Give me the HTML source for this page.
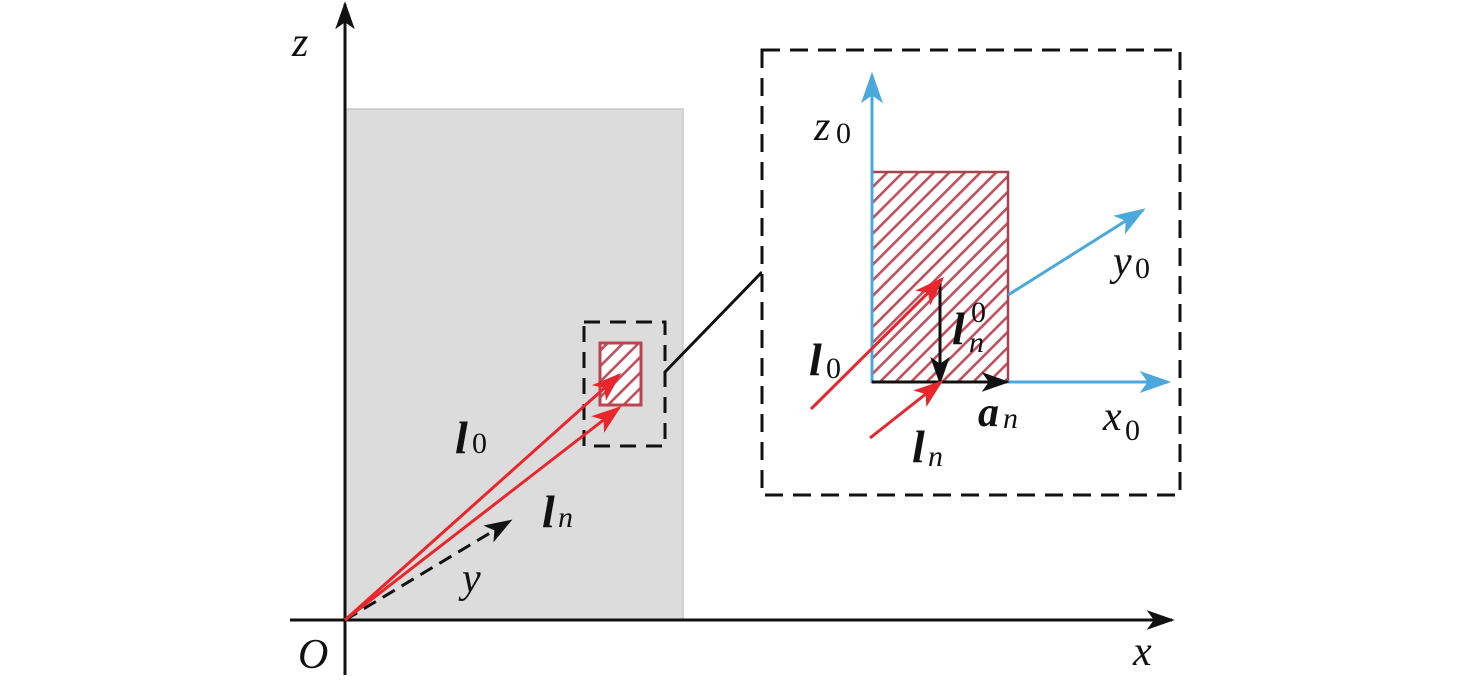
<!DOCTYPE html>
<html><head><style>
html,body{margin:0;padding:0;background:#fff;}
svg text{font-family:"Liberation Serif","Times New Roman","DejaVu Serif",serif;}
.i{font-style:italic;}
.n{font-style:normal;}
.b{font-weight:bold;font-style:italic;}
</style></head><body>
<svg width="1476" height="682" viewBox="0 0 1476 682" xmlns="http://www.w3.org/2000/svg">
<defs>
<pattern id="h" patternUnits="userSpaceOnUse" width="11" height="11" patternTransform="rotate(-45)">
<rect width="11" height="11" fill="#fff"/>
<rect x="0" y="0" width="11" height="2.6" fill="#c0505c"/>
</pattern>
<marker id="ab" viewBox="0 0 20 14" refX="18" refY="7" markerWidth="28" markerHeight="20" markerUnits="userSpaceOnUse" orient="auto"><path d="M0,0 L20,7 L0,14 L5,7z" fill="#111"/></marker>
<marker id="ar" viewBox="0 0 20 14" refX="18" refY="7" markerWidth="30" markerHeight="21" markerUnits="userSpaceOnUse" orient="auto"><path d="M0,0 L20,7 L0,14 L5,7z" fill="#e8262b"/></marker>
<marker id="abl" viewBox="0 0 20 14" refX="18" refY="7" markerWidth="32" markerHeight="22" markerUnits="userSpaceOnUse" orient="auto"><path d="M0,0 L20,7 L0,14 L5,7z" fill="#4ba8dd"/></marker>
</defs>
<rect x="345" y="109" width="338" height="511" fill="#dcdcdc" stroke="#c8c8c8" stroke-width="1.5"/>
<line x1="345" y1="675" x2="345" y2="4" stroke="#111" stroke-width="3" marker-end="url(#ab)"/>
<line x1="290" y1="620" x2="1172" y2="620" stroke="#111" stroke-width="3" marker-end="url(#ab)"/>
<rect x="600" y="343" width="41" height="62" fill="url(#h)" stroke="#b8454f" stroke-width="3"/>
<rect x="584" y="322" width="81" height="124" fill="none" stroke="#111" stroke-width="3" stroke-dasharray="16,10"/>
<line x1="345" y1="620" x2="510" y2="521" stroke="#111" stroke-width="3" stroke-dasharray="14,8" marker-end="url(#ab)"/>
<line x1="345" y1="620" x2="619" y2="375" stroke="#e8262b" stroke-width="3" marker-end="url(#ar)"/>
<line x1="345" y1="620" x2="619" y2="408" stroke="#e8262b" stroke-width="3" marker-end="url(#ar)"/>
<polyline points="665,372 762,272" fill="none" stroke="#111" stroke-width="3"/>
<rect x="762" y="50" width="418" height="445" fill="#fff" stroke="#111" stroke-width="3" stroke-dasharray="18,10"/>
<rect x="872" y="172" width="136" height="210" fill="url(#h)" stroke="#a8434d" stroke-width="2.5"/>
<line x1="872" y1="382" x2="872" y2="75" stroke="#4ba8dd" stroke-width="3" marker-end="url(#abl)"/>
<line x1="1008" y1="382" x2="1168" y2="382" stroke="#4ba8dd" stroke-width="3" marker-end="url(#abl)"/>
<line x1="1008" y1="295" x2="1143" y2="210" stroke="#4ba8dd" stroke-width="3" marker-end="url(#abl)"/>
<line x1="872" y1="382" x2="1007" y2="382" stroke="#111" stroke-width="3" marker-end="url(#ab)"/>
<line x1="940" y1="280" x2="940" y2="382" stroke="#111" stroke-width="3" marker-end="url(#ab)"/>
<line x1="811" y1="409" x2="942" y2="279" stroke="#e8262b" stroke-width="3" marker-end="url(#ar)"/>
<line x1="870" y1="438" x2="941" y2="382" stroke="#e8262b" stroke-width="3" marker-end="url(#ar)"/>
<g fill="#111">
<text class="i" x="292" y="56" font-size="42">z</text>
<text class="i" x="298" y="668" font-size="42">O</text>
<text class="i" x="1133" y="665" font-size="42">x</text>
<text class="i" x="462" y="592" font-size="42">y</text>
<text class="b" x="455" y="453" font-size="46">l</text><text class="n" x="472" y="453" font-size="30">0</text>
<text class="b" x="542" y="527" font-size="46">l</text><text class="i" x="558" y="527" font-size="30">n</text>
<text class="i" x="814" y="140" font-size="42">z</text><text class="n" x="836" y="143" font-size="30">0</text>
<text class="i" x="1113" y="275" font-size="42">y</text><text class="n" x="1135" y="278" font-size="30">0</text>
<text class="i" x="1103" y="430" font-size="42">x</text><text class="n" x="1125" y="440" font-size="30">0</text>
<text class="b" x="809" y="375" font-size="46">l</text><text class="n" x="826" y="378" font-size="30">0</text>
<text class="b" x="912" y="462" font-size="46">l</text><text class="i" x="928" y="466" font-size="30">n</text>
<text class="b" x="978" y="426" font-size="42">a</text><text class="i" x="1003" y="428" font-size="30">n</text>
<text class="b" x="952" y="344" font-size="46">l</text><text class="n" x="971" y="322" font-size="30">0</text><text class="i" x="969" y="352" font-size="30">n</text>
</g>
</svg>
</body></html>
